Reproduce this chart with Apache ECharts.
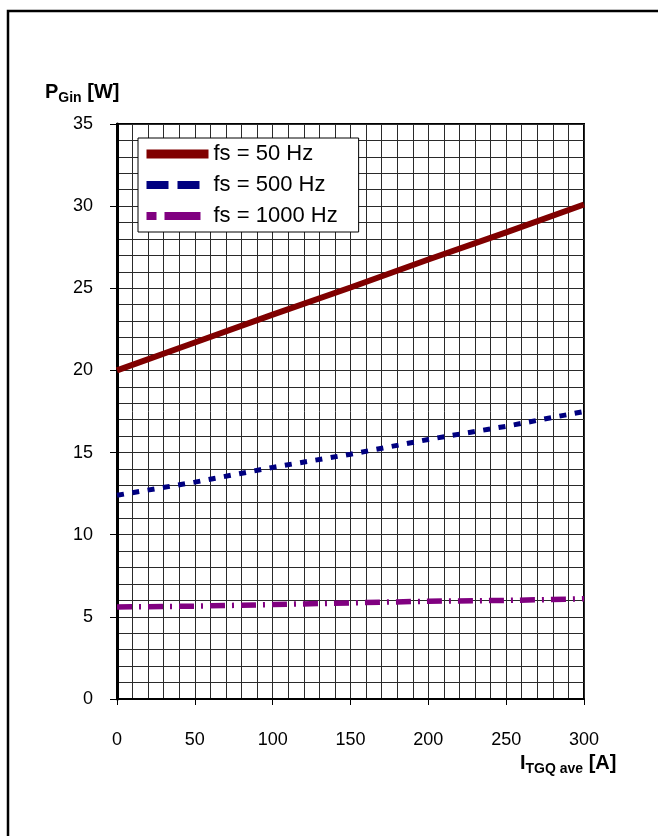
<!DOCTYPE html>
<html>
<head>
<meta charset="utf-8">
<script src="https://cdn.jsdelivr.net/npm/echarts@6/dist/echarts.min.js"></script>
<style>
  html, body { margin: 0; padding: 0; background: #fff; }
  #chart { width: 658px; height: 836px; }
</style>
</head>
<body>
<div id="chart"></div>
<script>
// Gate input power vs. average current
const currents = [0, 50, 100, 150, 200, 250, 300];
const p50Hz = [20.0, 21.7, 23.4, 25.05, 26.75, 28.4, 30.1];
const p500Hz = [12.4, 13.2, 14.1, 14.9, 15.8, 16.6, 17.5];
const p1000Hz = [5.6, 5.65, 5.75, 5.85, 5.95, 6.0, 6.1];
const seriesNames = ['fs = 50 Hz', 'fs = 500 Hz', 'fs = 1000 Hz'];

const FONT = 'Liberation Sans, Arial, sans-serif';
const GRID_COLOR = '#2a2a2a';

const pairs = (ys) => currents.map((x, i) => [x, ys[i]]);

// bold title with a subscript part
const subTitle = (main, sub, tail) => ({
  text: `{b|${main}}{s|${sub}}{b|${tail}}`,
  rich: {
    b: { fontSize: 20, fontWeight: 'bold', fontFamily: FONT, fill: '#000', verticalAlign: 'top' },
    s: { fontSize: 14, fontWeight: 'bold', fontFamily: FONT, fill: '#000', verticalAlign: 'top', padding: [9, 0, 0, 0] },
  },
});

const chart = echarts.init(document.getElementById('chart'));

chart.setOption({
  backgroundColor: '#fff',
  animation: false,
  grid: {
    left: 117, top: 124, right: 74, bottom: 137,
    show: true, borderColor: '#000', borderWidth: 2,
  },
  xAxis: {
    type: 'value',
    min: 0, max: 300, interval: 50,
    axisLine: { show: true, onZero: false, lineStyle: { color: '#000', width: 2 } },
    axisTick: { show: true, length: 6, lineStyle: { color: '#000', width: 1 } },
    axisLabel: { margin: 32, color: '#000', fontSize: 18, fontFamily: FONT },
    splitLine: { show: true, lineStyle: { color: GRID_COLOR, width: 1 } },
    minorTick: { show: false, splitNumber: 5 },
    minorSplitLine: { show: true, lineStyle: { color: GRID_COLOR, width: 1 } },
  },
  yAxis: {
    type: 'value',
    min: 0, max: 35, interval: 5,
    axisLine: { show: true, onZero: false, lineStyle: { color: '#000', width: 3 } },
    axisTick: { show: true, length: 7, lineStyle: { color: '#000', width: 1 } },
    axisLabel: { margin: 24, color: '#000', fontSize: 18, fontFamily: FONT },
    splitLine: { show: true, lineStyle: { color: GRID_COLOR, width: 1 } },
    minorTick: { show: false, splitNumber: 5 },
    minorSplitLine: { show: true, lineStyle: { color: GRID_COLOR, width: 1 } },
  },
  legend: {
    orient: 'vertical',
    left: 138, top: 138,
    padding: [5, 21, 5, 4],
    itemGap: 9,
    itemWidth: 62, itemHeight: 22,
    backgroundColor: '#fff',
    borderColor: '#000', borderWidth: 1,
    itemStyle: { opacity: 0 },
    textStyle: { color: '#000', fontSize: 22, fontFamily: FONT, width: 140, overflow: 'none' },
    data: [
      { name: seriesNames[0], lineStyle: { width: 9, type: 'solid' } },
      { name: seriesNames[1], lineStyle: { width: 8, type: [22, 9] } },
      { name: seriesNames[2], lineStyle: { width: 8, type: [10, 8, 36, 8] } },
    ],
  },
  series: [
    {
      name: seriesNames[0], type: 'line', data: pairs(p50Hz),
      symbol: 'none', z: 5,
      lineStyle: { color: '#800000', width: 6 },
      itemStyle: { color: '#800000' },
    },
    {
      name: seriesNames[1], type: 'line', data: pairs(p500Hz),
      symbol: 'none', z: 4,
      lineStyle: { color: '#000080', width: 5, type: [7, 8.5] },
      itemStyle: { color: '#000080' },
    },
    {
      name: seriesNames[2], type: 'line', data: pairs(p1000Hz),
      symbol: 'none', z: 3,
      lineStyle: { color: '#800080', width: 5.5, type: [15, 7, 2, 7] },
      itemStyle: { color: '#800080' },
    },
  ],
  graphic: [
    // outer frame (only top and left edges fall inside the picture)
    { type: 'polyline', shape: { points: [[8, 836], [8, 11], [658, 11]] },
      style: { stroke: '#000', lineWidth: 2.5, fill: null } },
    { type: 'text', left: 45, top: 82, style: subTitle('P', 'Gin', ' [W]') },
    { type: 'text', left: 520, top: 753, style: subTitle('I', 'TGQ ave', ' [A]') },
  ],
});
</script>
</body>
</html>
